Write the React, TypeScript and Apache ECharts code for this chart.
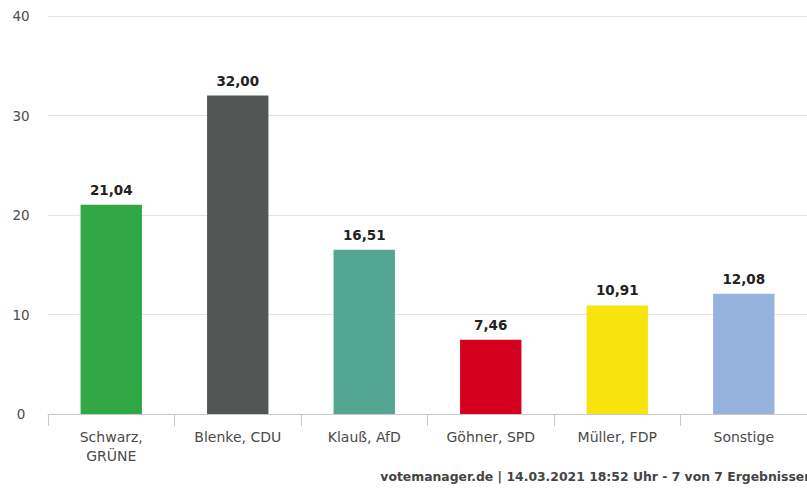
import React, { useEffect, useRef } from "react";
import * as echarts from "echarts";

const categories = ["Schwarz,\nGRÜNE", "Blenke, CDU", "Klauß, AfD", "Göhner, SPD", "Müller, FDP", "Sonstige"];
const values = [21.04, 32.0, 16.51, 7.46, 10.91, 12.08];
const colors = ["#32a845", "#535554", "#52a692", "#d4001e", "#f6e40c", "#95b3dc"];
const yTicks = [0, 10, 20, 30, 40];
const footer = "votemanager.de | 14.03.2021 18:52 Uhr - 7 von 7 Ergebnissen";

const FONT = "'DejaVu Sans', 'Open Sans', sans-serif";

export default function App() {
  const ref = useRef<HTMLDivElement>(null);
  useEffect(() => {
    if (!ref.current) return;
    const chart = echarts.init(ref.current, undefined, { renderer: "svg" });
    chart.setOption({
      animation: false,
      backgroundColor: "#ffffff",
      grid: { left: 48, right: -6, top: 16, bottom: 74, containLabel: false },
      xAxis: {
        type: "category",
        data: categories,
        axisLine: { show: true, lineStyle: { color: "#c8c8c8", width: 1 } },
        axisTick: { show: true, length: 12, lineStyle: { color: "#c8c8c8" } },
        axisLabel: {
          color: "#4a4a4a",
          fontFamily: FONT,
          fontSize: 14,
          margin: 13,
          lineHeight: 19,
          interval: 0,
        },
      },
      yAxis: {
        type: "value",
        min: yTicks[0],
        max: yTicks[yTicks.length - 1],
        interval: 10,
        axisLine: { show: false },
        axisTick: { show: false },
        axisLabel: {
          color: "#4a4a4a",
          fontFamily: FONT,
          fontSize: 13.5,
          margin: 27,
          align: "center",
        },
        splitLine: { lineStyle: { color: "#e4e4e4", width: 1 } },
      },
      series: [
        {
          type: "bar",
          data: values.map((v, i) => ({ value: v, itemStyle: { color: colors[i] } })),
          barWidth: "48.5%",
          label: {
            show: true,
            position: "top",
            distance: 8,
            color: "#222222",
            fontFamily: FONT,
            fontSize: 13.5,
            fontWeight: "bold",
            formatter: (p: any) => p.value.toFixed(2).replace(".", ","),
          },
        },
      ],
      graphic: [
        {
          type: "text",
          right: -6,
          top: 470,
          style: {
            text: footer,
            fill: "#444444",
            font: `bold 12.4px ${FONT}`,
          },
        },
      ],
    });
    return () => chart.dispose();
  }, []);
  return <div ref={ref} style={{ width: 807, height: 488, position: "absolute", left: 0, top: 0 }} />;
}
